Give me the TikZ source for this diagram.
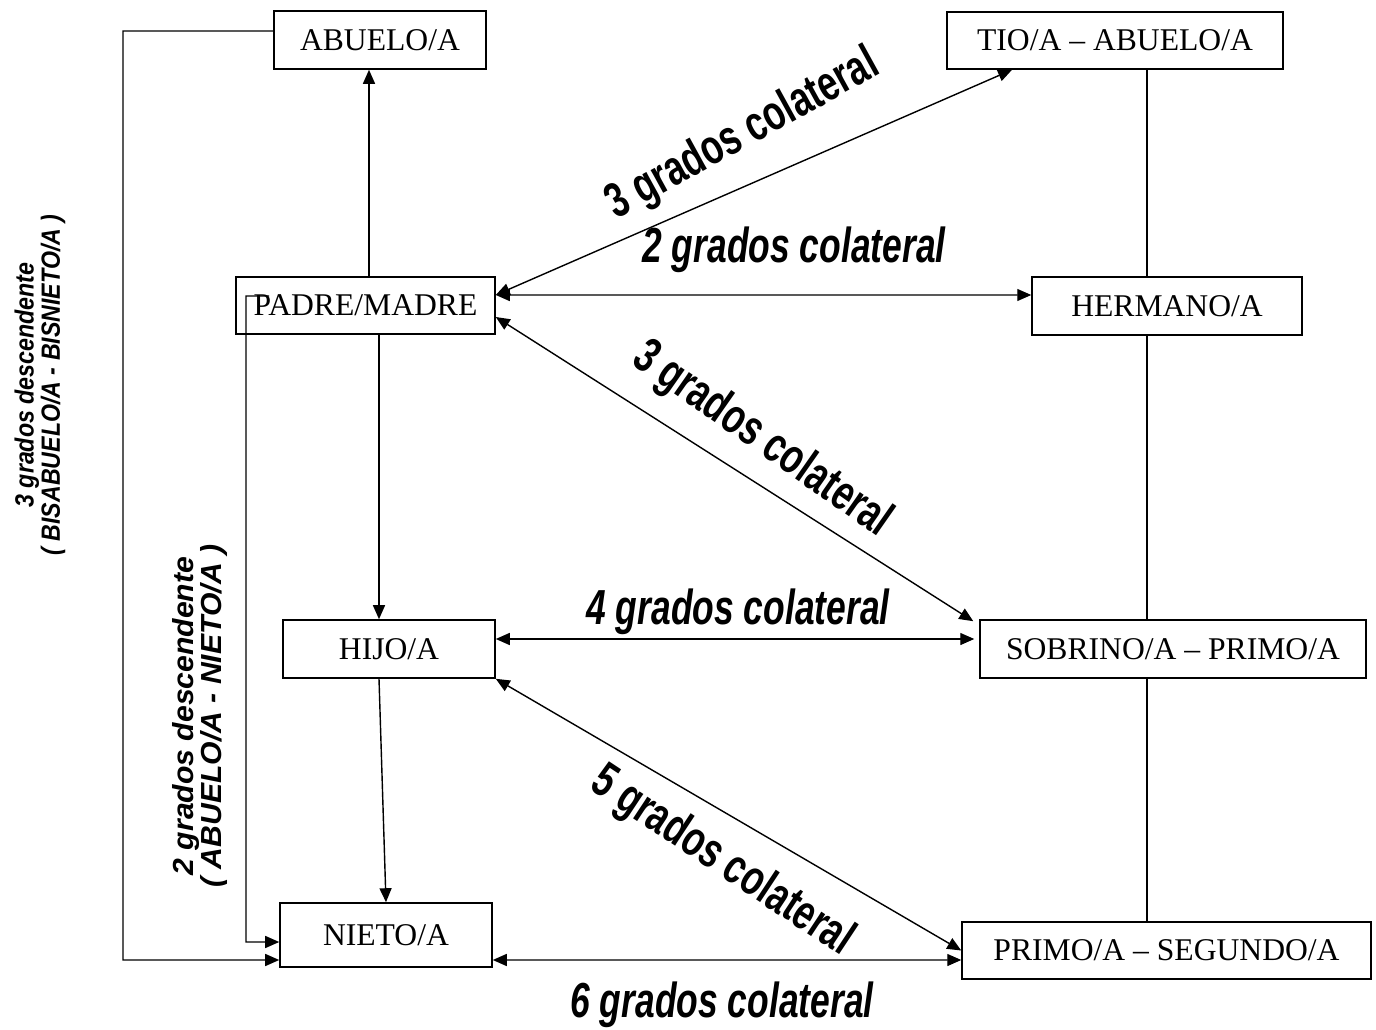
\documentclass[tikz,border=0pt]{standalone}
\usepackage{fontspec}
\usepackage{graphicx}
\setmainfont{Liberation Serif}
\newfontfamily\gradofont{Liberation Sans}
\usetikzlibrary{arrows.meta}

\newcommand{\estrecho}[1]{\scalebox{0.72}[1]{#1}}
\newcommand{\angosto}[1]{\scalebox{0.88}[1]{#1}}
\newcommand{\ancho}[1]{\scalebox{1.04}[1]{#1}}

\begin{document}
\begin{tikzpicture}[x=0.02cm, y=-0.02cm, line width=0.8pt,
	caja/.style={draw, line width=0.9pt, inner sep=0pt, font=\fontsize{18}{20}\selectfont},
	flecha/.style={-{Triangle[length=0.28cm,width=0.24cm]}},
	doble/.style={{Triangle[length=0.28cm,width=0.24cm]}-{Triangle[length=0.28cm,width=0.24cm]}},
	grado/.style={inner sep=0pt, font=\gradofont\bfseries\itshape\fontsize{28}{30}\selectfont},
	gradorecto/.style={inner sep=0pt, font=\gradofont\bfseries\fontsize{28}{30}\selectfont},
	desc/.style={inner sep=0pt, align=center, rotate=90, font=\gradofont\bfseries\itshape\fontsize{15}{11}\selectfont}]

	\useasboundingbox (0,0) rectangle (1376,1030);

	% Cajas de parentesco
	\node[caja, minimum width=4.24cm, minimum height=1.16cm] (abuelo) at (380,40) {ABUELO/A};
	\node[caja, minimum width=5.18cm, minimum height=1.14cm] (padre) at (365.5,305.5) {PADRE/MADRE};
	\node[caja, minimum width=4.24cm, minimum height=1.16cm] (hijo) at (389,649) {HIJO/A};
	\node[caja, minimum width=4.24cm, minimum height=1.28cm] (nieto) at (386,935) {NIETO/A};
	\node[caja, minimum width=6.72cm, minimum height=1.14cm] (tio) at (1115,40.5) {TIO/A -- ABUELO/A};
	\node[caja, minimum width=5.40cm, minimum height=1.16cm] (hermano) at (1167,306) {HERMANO/A};
	\node[caja, minimum width=7.72cm, minimum height=1.16cm] (sobrino) at (1173,649) {SOBRINO/A -- PRIMO/A};
	\node[caja, minimum width=8.18cm, minimum height=1.14cm] (primoseg) at (1166.5,950.5) {PRIMO/A -- SEGUNDO/A\hspace{0.36cm}};

	\coordinate (xa) at (369,0);
	\coordinate (xb) at (379,0);
	\coordinate (xr) at (1147,0);
	\coordinate (esq1) at (123,960);
	\coordinate (esq2) at (246,942);

	% Linea directa
	\draw[flecha] (padre.north -| xa) -- (abuelo.south -| xa);
	\draw[flecha] (padre.south -| xb) -- (hijo.north -| xb);
	\draw[flecha] (hijo.south -| xb) -- (nieto.north);
	\draw[flecha] ([yshift=0.18cm]abuelo.west) -| (esq1) -- ([yshift=-0.5cm]nieto.west);
	\draw[flecha] ([xshift=0.68cm,yshift=0.19cm]padre.west) -| (esq2) -- ([yshift=-0.14cm]nieto.west);

	% Linea colateral
	\draw[doble] ([yshift=0.21cm]padre.east) -- ([xshift=-2.06cm]tio.south);
	\draw[doble] ([yshift=0.21cm]padre.east) -- ([yshift=0.22cm]hermano.west);
	\draw[doble] ([yshift=-0.23cm]padre.east) -- ([xshift=-0.12cm,yshift=-0.04cm]sobrino.north west);
	\draw[doble] ([yshift=0.2cm]hijo.east) -- ([xshift=-0.1cm,yshift=0.2cm]sobrino.west);
	\draw[doble] (hijo.south east) -- (primoseg.west);
	\draw[doble] ([yshift=-0.5cm]nieto.east) -- ([yshift=-0.19cm]primoseg.west);

	\draw (tio.south -| xr) -- (hermano.north -| xr);
	\draw (hermano.south -| xr) -- (sobrino.north -| xr);
	\draw (sobrino.south -| xr) -- (primoseg.north -| xr);

	% Grados
	\node[gradorecto, rotate=28.8] (g3a) at (743,135) {\estrecho{3 grados colateral}};
	\node[grado] (g2) at (794,250) {\estrecho{2 grados colateral}};
	\node[gradorecto, rotate=-35] (g3b) at (762,440) {\estrecho{3 grados colateral}};
	\node[grado] (g4) at (738,612) {\estrecho{4 grados colateral}};
	\node[gradorecto, rotate=-33.5] (g5) at (722,862) {\estrecho{5 grados colateral}};
	\node[grado] (g6) at (722,1005) {\estrecho{6 grados colateral}};

	\node[desc] (d3) at (40,385) {\angosto{3 grados descendente}\\\angosto{( BISABUELO/A - BISNIETO/A )}};
	\node[desc, font=\gradofont\bfseries\itshape\fontsize{16.5}{11.5}\selectfont] (d2) at (200,716)
		{\ancho{2 grados descendente}\\\ancho{( ABUELO/A - NIETO/A )}};
\end{tikzpicture}
\end{document}
